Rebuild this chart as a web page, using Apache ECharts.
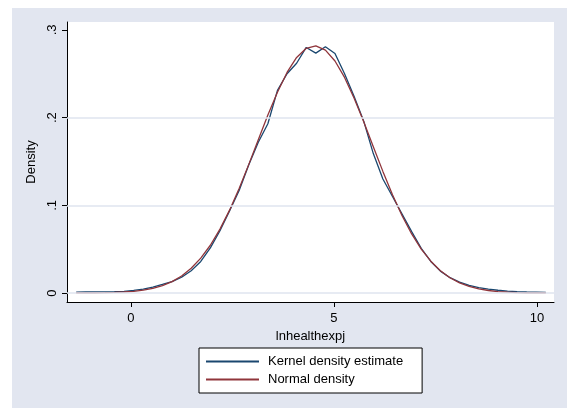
<!DOCTYPE html>
<html>
<head>
<meta charset="utf-8">
<script src="https://cdn.jsdelivr.net/npm/echarts@6/dist/echarts.min.js"></script>
<style>
  html, body { margin: 0; padding: 0; background: #ffffff; }
  #chart { position: absolute; left: 12px; top: 8px; width: 555px; height: 400px; }
</style>
</head>
<body>
<div id="chart"></div>
<script>
// Evaluation points of the density estimate (lnhealthexpj)
const xPoints = [-1.350, -1.114, -0.878, -0.642, -0.406, -0.170, 0.067, 0.303, 0.539, 0.775,
  1.011, 1.247, 1.483, 1.719, 1.955, 2.192, 2.428, 2.664, 2.900, 3.136,
  3.372, 3.608, 3.844, 4.080, 4.317, 4.553, 4.789, 5.025, 5.261, 5.497,
  5.733, 5.969, 6.205, 6.442, 6.678, 6.914, 7.150, 7.386, 7.622, 7.858,
  8.094, 8.330, 8.567, 8.803, 9.039, 9.275, 9.511, 9.747, 9.983, 10.219];

// Kernel density estimate
const kernelDensity = [0.0010, 0.0012, 0.0013, 0.0014, 0.0016, 0.0020, 0.0030, 0.0045, 0.0068, 0.0098,
  0.0130, 0.0180, 0.0255, 0.0360, 0.0515, 0.0710, 0.0935, 0.1170, 0.1460, 0.1720,
  0.1930, 0.2310, 0.2500, 0.2620, 0.2800, 0.2735, 0.2807, 0.2730, 0.2500, 0.2240,
  0.1960, 0.1590, 0.1300, 0.1100, 0.0900, 0.0700, 0.0510, 0.0360, 0.0250, 0.0175,
  0.0125, 0.0088, 0.0062, 0.0045, 0.0032, 0.0022, 0.0016, 0.0012, 0.0010, 0.0008];

// Normal density
const normalDensity = [0.0001, 0.0001, 0.0002, 0.0004, 0.0007, 0.0012, 0.0020, 0.0033, 0.0054, 0.0085,
  0.0130, 0.0194, 0.0282, 0.0398, 0.0545, 0.0729, 0.0945, 0.1192, 0.1464, 0.1747,
  0.2029, 0.2290, 0.2515, 0.2686, 0.2790, 0.2818, 0.2769, 0.2645, 0.2458, 0.2221,
  0.1952, 0.1669, 0.1387, 0.1121, 0.0881, 0.0674, 0.0501, 0.0363, 0.0255, 0.0174,
  0.0116, 0.0075, 0.0047, 0.0029, 0.0017, 0.0010, 0.0006, 0.0003, 0.0002, 0.0001];

// Axis ticks
const xTicks = [0, 5, 10];
const yTicks = [0, 0.1, 0.2, 0.3];
const yGrid = [0, 0.1, 0.2];
const yTickLabels = {0: '0', 0.1: '.1', 0.2: '.2', 0.3: '.3'};

const seriesNames = ['Kernel density estimate', 'Normal density'];

const font = 'Liberation Sans, Arial, sans-serif';
const bg = '#e2e6f0';

const chart = echarts.init(document.getElementById('chart'));

chart.setOption({
  backgroundColor: bg,
  animation: false,
  textStyle: { fontFamily: font, color: '#000' },
  grid: {
    left: 55, top: 14, width: 487, height: 280,
    show: true, backgroundColor: '#ffffff', borderWidth: 0
  },
  xAxis: {
    type: 'value',
    min: -1.576, max: 10.42,
    name: 'lnhealthexpj',
    nameLocation: 'middle',
    nameGap: 24,
    nameTextStyle: { fontFamily: font, fontSize: 13, color: '#000' },
    axisLine: { show: true, onZero: false, lineStyle: { color: '#000', width: 1 } },
    axisTick: { show: true, length: 5, customValues: xTicks, lineStyle: { color: '#000' } },
    axisLabel: {
      customValues: xTicks, margin: 10,
      fontFamily: font, fontSize: 13, color: '#000'
    },
    splitLine: { show: false }
  },
  yAxis: {
    type: 'value',
    min: -0.0102, max: 0.309,
    name: 'Density',
    nameLocation: 'middle',
    nameGap: 17,
    nameTextStyle: { fontFamily: font, fontSize: 13, color: '#000' },
    axisLine: { show: true, onZero: false, lineStyle: { color: '#000', width: 1 } },
    axisTick: { show: true, length: 5, customValues: yTicks, lineStyle: { color: '#000' } },
    axisLabel: {
      customValues: yTicks, rotate: 90, margin: 8,
      fontFamily: font, fontSize: 13, color: '#000',
      formatter: v => yTickLabels[Math.round(v * 10) / 10] ?? ''
    },
    splitLine: { show: false }
  },
  legend: {
    data: seriesNames,
    orient: 'vertical',
    left: 187, top: 340,
    backgroundColor: '#ffffff',
    borderColor: '#000', borderWidth: 1, borderRadius: 0,
    padding: [7, 19, 7, 6],
    itemWidth: 53, itemHeight: 14, itemGap: 5,
    itemStyle: { opacity: 0 },
    textStyle: { fontFamily: font, fontSize: 13, color: '#000', padding: [0, 0, 0, 4] }
  },
  series: [
    {
      name: 'grid',
      type: 'line',
      data: [],
      silent: true,
      z: 1,
      markLine: {
        silent: true,
        symbol: 'none',
        label: { show: false },
        lineStyle: { color: '#dfe4ef', width: 1.5, type: 'solid' },
        data: yGrid.map(v => ({ yAxis: v }))
      }
    },
    {
      name: seriesNames[0],
      type: 'line',
      data: xPoints.map((x, i) => [x, kernelDensity[i]]),
      showSymbol: false, symbol: 'none', z: 3,
      lineStyle: { color: '#1a476f', width: 1.3 },
      itemStyle: { color: '#1a476f' }
    },
    {
      name: seriesNames[1],
      type: 'line',
      data: xPoints.map((x, i) => [x, normalDensity[i]]),
      showSymbol: false, symbol: 'none', z: 4,
      lineStyle: { color: '#90353b', width: 1.3 },
      itemStyle: { color: '#90353b' }
    }
  ]
});
</script>
</body>
</html>
